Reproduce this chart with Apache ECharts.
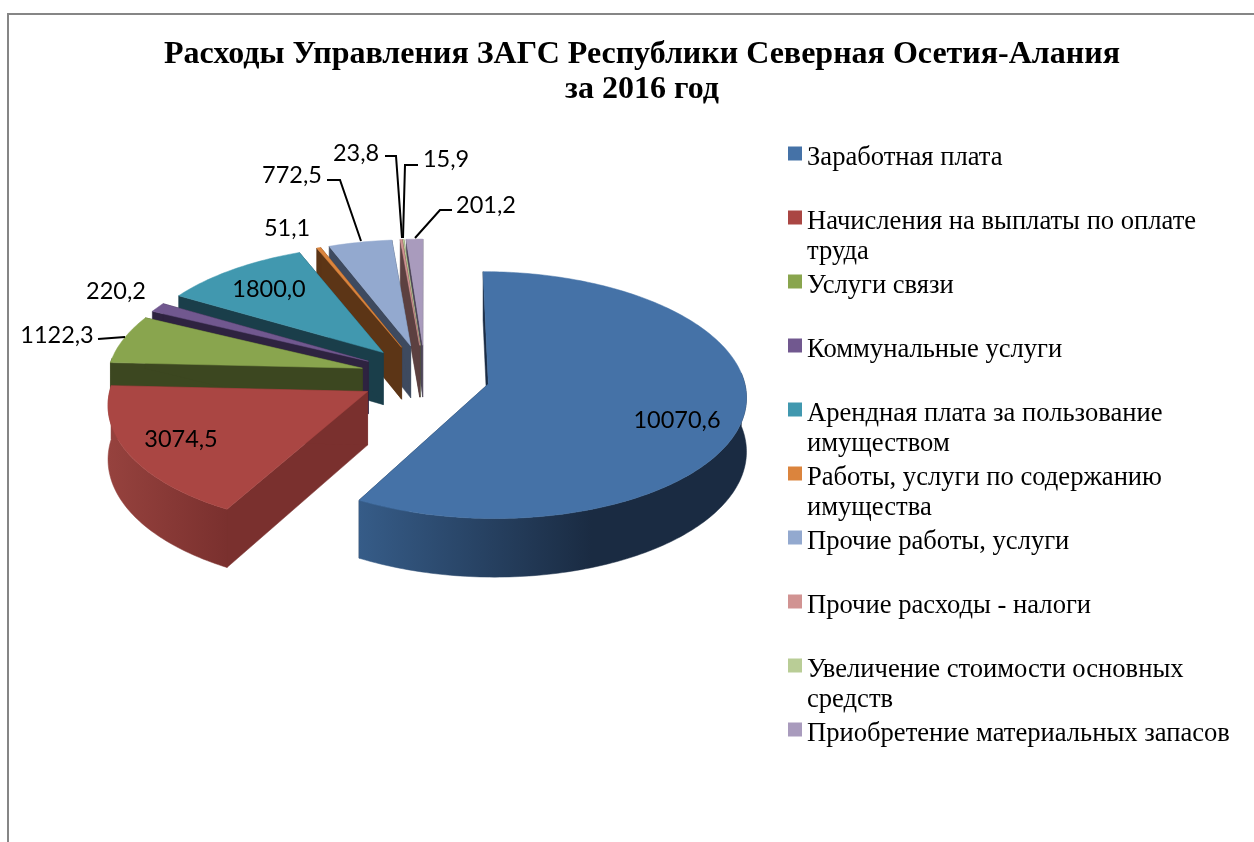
<!DOCTYPE html>
<html>
<head>
<meta charset="utf-8">
<title>Расходы Управления ЗАГС</title>
<style>
  html, body { margin: 0; padding: 0; background: #fff; }
  #main { width: 1254px; height: 842px; }
</style>
<script src="https://cdn.jsdelivr.net/npm/echarts@6/dist/echarts.min.js"></script>
</head>
<body>
<div id="main"></div>
<script>
var titleText = 'Расходы Управления ЗАГС Республики Северная Осетия-Алания\nза 2016 год'
var categories = [
  'Заработная плата',
  'Начисления на выплаты по оплате\nтруда',
  'Услуги связи',
  'Коммунальные услуги',
  'Арендная плата за пользование\nимуществом',
  'Работы, услуги по содержанию\nимущества',
  'Прочие работы, услуги',
  'Прочие расходы - налоги',
  'Увеличение стоимости основных\nсредств',
  'Приобретение материальных запасов'
]
var values = [10070.6, 3074.5, 1122.3, 220.2, 1800.0, 51.1, 772.5, 23.8, 15.9, 201.2]

var topColors = ['#4572a7', '#aa4643', '#89a54e', '#71588f', '#4198af', '#db843d', '#93a9cf', '#d19392', '#b9cd96', '#a99bbd']
var faceColors = ['#1b2c45', '#7a302e', '#3c4720', '#2e2340', '#1a3e4a', '#5c3516', '#3e4a5f', '#5c4040', '#50593e', '#4c4458']
var rimFrom = ['#365c88', '#96423e', '#3c4720', '#2e2340', '#1a3e4a', '#5c3516', '#3e4a5f', '#5c4040', '#50593e', '#4c4458']
var rimTo = ['#1a2b42', '#7a302e', '#3c4720', '#2e2340', '#1a3e4a', '#5c3516', '#3e4a5f', '#5c4040', '#50593e', '#4c4458']

// label centres and leader lines, px
var labelPos = [[677, 420], [181, 439], [57, 335], [116, 291], [269, 289], [287, 228], [292, 175], [356, 153], [446, 159], [486, 205]]
var leaders = [
  null, null,
  [[98, 339], [125, 337]],
  null, null, null,
  [[327, 180], [340, 180], [361, 241]],
  [[385, 156], [396, 156], [402, 238]],
  [[418, 165], [405, 165], [403, 238]],
  [[452, 210], [440, 210], [415, 238]]
]

// pie plane -> screen (slight perspective, like the 3d pie in excel)
var X0 = 425, Y0 = 376, RX = 255, RY = 121, PERSP = 0.09
var EXPLODE_X = 0.255, EXPLODE_Y = 0.26, DEPTH = 53
var SERIF = '"Liberation Serif", "Times New Roman", serif'

var total = values.reduce(function (a, b) { return a + b }, 0)
var startAngles = []
values.reduce(function (acc, v, i) {
  startAngles[i] = acc / total * 360
  return acc + v
}, 0)

function rad(d) { return d * Math.PI / 180 }

function point(mid, angle, low) {
  var u = EXPLODE_X * Math.sin(rad(mid)) + Math.sin(rad(angle))
  var v = -EXPLODE_Y * Math.cos(rad(mid)) - Math.cos(rad(angle))
  var s = 1 / (1 - PERSP * v)
  return [X0 + RX * u * s, Y0 + RY * v * s + (low ? DEPTH * s : 0)]
}

function tip(mid, low) {
  var u = EXPLODE_X * Math.sin(rad(mid))
  var v = -EXPLODE_Y * Math.cos(rad(mid))
  var s = 1 / (1 - PERSP * v)
  return [X0 + RX * u * s, Y0 + RY * v * s + (low ? DEPTH * s : 0)]
}

function arcPoints(mid, from, to, low) {
  var pts = []
  for (var a = from; a < to; a += 1) pts.push(point(mid, a, low))
  pts.push(point(mid, to, low))
  return pts
}

function poly(points, fill) {
  return { type: 'polygon', shape: { points: points }, style: { fill: fill, stroke: fill, lineWidth: 0.5 } }
}

function renderSlice(i) {
  return function (params, api) {
    var sweep = api.value(0) / total * 360
    var a0 = startAngles[i]
    var a1 = a0 + sweep
    var mid = a0 + sweep / 2
    var children = []

    // cut faces
    children.push(poly([tip(mid), point(mid, a0), point(mid, a0, true), tip(mid, true)], faceColors[i]))
    children.push(poly([tip(mid), point(mid, a1), point(mid, a1, true), tip(mid, true)], faceColors[i]))

    // outer rim, front part only
    var r0 = Math.max(a0, 85)
    var r1 = Math.min(a1, 275)
    if (r1 > r0) {
      var rim = arcPoints(mid, r0, r1).concat(arcPoints(mid, r0, r1, true).reverse())
      var grad = new echarts.graphic.LinearGradient(0, 0, 1, 0, [
        { offset: 0, color: rimFrom[i] },
        { offset: i === 0 ? 0.6 : 1, color: rimTo[i] },
        { offset: 1, color: rimTo[i] }
      ])
      children.push(poly(rim, grad))
    }

    // top
    children.push(poly([tip(mid)].concat(arcPoints(mid, a0, a1)), topColors[i]))
    return { type: 'group', children: children }
  }
}

function renderLabel(params, api) {
  var i = params.dataIndex
  var children = []
  if (leaders[i]) {
    children.push({
      type: 'polyline',
      shape: { points: leaders[i] },
      style: { stroke: '#000', lineWidth: 2, fill: null }
    })
  }
  children.push({
    type: 'text',
    style: {
      text: api.value(0).toFixed(1).replace('.', ','),
      x: labelPos[i][0],
      y: labelPos[i][1],
      align: 'center',
      verticalAlign: 'middle',
      fill: '#000',
      font: '23.5px Lato'
    }
  })
  return { type: 'group', children: children }
}

var sliceSeries = categories.map(function (name, i) {
  return {
    type: 'custom',
    name: name,
    coordinateSystem: 'none',
    z: 2 + (categories.length - i),
    itemStyle: { color: topColors[i] },
    data: [[values[i]]],
    renderItem: renderSlice(i)
  }
})

var labelSeries = {
  type: 'custom',
  name: 'labels',
  coordinateSystem: 'none',
  z: 30,
  silent: true,
  data: values.map(function (v) { return [v] }),
  renderItem: renderLabel
}

// legend text centres on the icon, so a spacer line on top puts the first text
// line next to the icon (2-3px under its middle, as in the picture)
function legendText(name) {
  var lines = name.split('\n')
  var spacer = lines.length > 1 ? '{tall| }' : '{short| }'
  return spacer + '\n' + lines.map(function (l) { return '{row|' + l + '}' }).join('\n')
}

// one legend per row, rows sit on a fixed 64px pitch whether wrapped or not
var legends = categories.map(function (name, i) {
  var wrapped = name.indexOf('\n') >= 0
  return {
    data: [name],
    left: 788,
    top: 155 + 64 * i - (wrapped ? 32 : 17),
    padding: 0,
    icon: 'rect',
    itemWidth: 14,
    itemHeight: 14,
    selectedMode: false,
    formatter: legendText,
    textStyle: {
      color: '#000',
      rich: {
        row: { fontFamily: SERIF, fontSize: 26.6, lineHeight: 30, color: '#000' },
        tall: { fontSize: 1, lineHeight: 39 },
        short: { fontSize: 1, lineHeight: 9 }
      }
    }
  }
})

var chart = echarts.init(document.getElementById('main'), null, { renderer: 'canvas' })
chart.setOption({
  animation: false,
  backgroundColor: '#fff',
  title: {
    text: titleText,
    left: 642,
    top: 37,
    textAlign: 'center',
    padding: 0,
    textStyle: { fontFamily: SERIF, fontSize: 32, fontWeight: 'bold', lineHeight: 35, color: '#000' }
  },
  legend: legends,
  graphic: [{
    type: 'polyline',
    shape: { points: [[8, 842], [8, 14], [1254, 14]] },
    style: { stroke: '#868686', lineWidth: 2, fill: null }
  }],
  series: sliceSeries.concat([labelSeries])
})
</script>
</body>
</html>
